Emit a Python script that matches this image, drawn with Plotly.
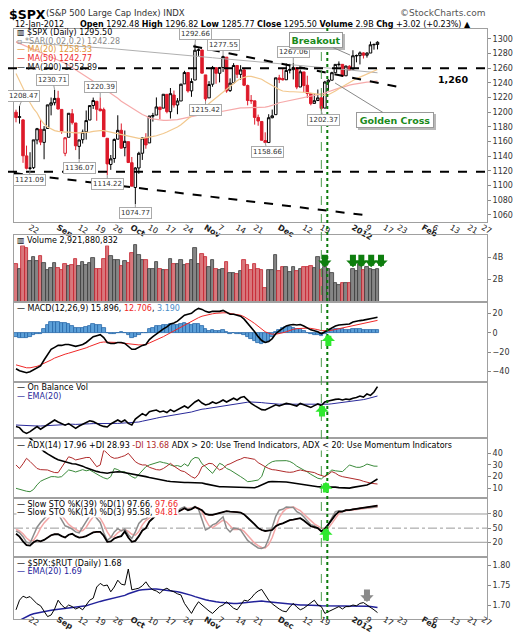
import pandas as pd
import plotly.graph_objects as go

# the page puts an 8px body margin round the figure, so the figure is 16px smaller
# than the window and every position below is given in window pixels
PAGE = 8
W, H = 529 - 2 * PAGE, 640 - 2 * PAGE
PLOT_L, PLOT_R, PLOT_T, PLOT_B = 14, 487, 29, 619
L, R, T, B = PLOT_L - PAGE, W + PAGE - PLOT_R, PLOT_T - PAGE, H + PAGE - PLOT_B

# trading calendar (blank trading days kept through end of Feb)
holidays = ["2011-09-05", "2011-11-24", "2011-12-26", "2012-01-02", "2012-01-16", "2012-02-20"]
days = [d.strftime("%Y-%m-%d") for d in pd.bdate_range("2011-08-16", "2012-02-29")]
days = [d for d in days if d not in holidays]
pos = {d: i for i, d in enumerate(days)}

tick_dates = ["2011-08-22", "2011-09-01", "2011-09-12", "2011-09-19", "2011-09-26",
              "2011-10-03", "2011-10-10", "2011-10-17", "2011-10-24", "2011-11-01",
              "2011-11-07", "2011-11-14", "2011-11-21", "2011-12-01", "2011-12-12",
              "2011-12-19", "2012-01-03", "2012-01-09", "2012-01-17", "2012-01-23",
              "2012-02-01", "2012-02-06", "2012-02-13", "2012-02-21", "2012-02-27"]
tick_text = ["22", "<b>Sep</b>", "12", "19", "26", "<b>Oct</b>", "10", "17", "24", "<b>Nov</b>",
             "7", "14", "21", "<b>Dec</b>", "12", "19", "<b>2012</b>", "9", "17", "23",
             "<b>Feb</b>", "6", "13", "21", "27"]

# ---- $SPX daily, 16-Aug-2011 .. 12-Jan-2012 ----
prev_close = 1204.49
opens = [1200.1, 1193.0, 1189.6, 1140.5, 1123.6, 1124.4, 1162.2, 1176.7, 1158.9, 1177.9, 1209.8, 1213.0,
         1219.1, 1203.9, 1144.0, 1165.9, 1197.98, 1185.4, 1153.5, 1162.6, 1173.3, 1189.4, 1209.2, 1214.99,
         1204.5, 1203.6, 1164.55, 1128.8, 1136.9, 1163.3, 1175.4, 1151.7, 1159.9,
         1131.2, 1097.4, 1124.0, 1144.1, 1165.0, 1158.2, 1194.6, 1196.2, 1206.96, 1205.65, 1224.47, 1200.75,
         1223.46, 1209.92, 1215.39, 1238.72, 1254.19, 1229.17, 1243.97, 1284.39, 1284.96,
         1251.0, 1219.62, 1238.25, 1260.82, 1253.21, 1261.12, 1275.18, 1229.59, 1240.12, 1263.85, 1251.7,
         1257.81, 1236.56, 1216.19, 1215.62, 1192.98, 1187.48, 1161.41, 1158.67, 1192.56, 1196.72,
         1246.91, 1246.03, 1244.33, 1257.19, 1258.14, 1260.87, 1234.48, 1255.05, 1236.83, 1225.73, 1212.12,
         1216.09, 1219.74, 1205.72, 1241.25, 1243.72, 1254.0, 1265.02, 1265.38, 1249.75, 1262.82,
         1258.86, 1277.03, 1277.3, 1280.93, 1277.83, 1280.77, 1292.02, 1292.48]
highs = [1203.5, 1208.47, 1190.7, 1154.5, 1145.5, 1162.35, 1178.7, 1190.7, 1181.2, 1210.3, 1220.1, 1230.71,
         1229.3, 1203.9, 1166.0, 1198.62, 1204.4, 1185.4, 1162.5, 1176.4, 1202.4, 1209.11, 1220.06, 1214.99,
         1220.39, 1206.3, 1164.55, 1141.7, 1164.2, 1195.9, 1184.7, 1175.1, 1159.9,
         1138.99, 1125.1, 1146.1, 1165.6, 1171.4, 1194.9, 1199.2, 1220.25, 1207.5, 1224.6, 1224.47, 1233.1,
         1229.64, 1219.36, 1239.03, 1256.55, 1254.19, 1246.28, 1292.66, 1287.08, 1284.96,
         1251.0, 1242.48, 1263.21, 1260.82, 1261.7, 1277.55, 1275.18, 1246.22, 1266.98, 1263.85, 1264.25,
         1259.61, 1237.73, 1223.51, 1215.62, 1196.81, 1187.48, 1172.66, 1197.35, 1203.67, 1247.11,
         1251.09, 1260.08, 1266.73, 1266.03, 1267.06, 1260.87, 1258.25, 1255.05, 1249.86, 1225.73, 1225.6,
         1231.04, 1224.57, 1242.82, 1245.09, 1255.22, 1265.42, 1269.37, 1265.85, 1263.54, 1264.12,
         1284.62, 1278.73, 1283.05, 1281.84, 1281.99, 1296.46, 1293.8, 1296.82]
lows = [1186.3, 1184.5, 1131.0, 1122.0, 1121.09, 1122.5, 1156.3, 1155.1, 1135.9, 1177.9, 1195.8, 1209.4,
        1203.9, 1170.6, 1140.1, 1165.9, 1183.3, 1148.4, 1136.07, 1157.4, 1162.7, 1189.4, 1204.5, 1188.4,
        1201.3, 1166.2, 1114.22, 1121.4, 1131.1, 1163.3, 1150.4, 1139.9, 1131.3,
        1098.9, 1074.77, 1116.1, 1134.95, 1150.26, 1158.2, 1187.3, 1196.2, 1190.58, 1205.65, 1198.55, 1191.5,
        1206.31, 1197.34, 1215.39, 1238.72, 1226.79, 1221.06, 1243.97, 1277.01, 1253.16,
        1215.42, 1219.62, 1234.81, 1238.92, 1240.75, 1254.99, 1226.64, 1227.7, 1240.12, 1246.68, 1244.34,
        1235.67, 1209.43, 1211.36, 1183.16, 1181.65, 1161.79, 1158.66, 1158.67, 1191.8, 1196.72,
        1239.73, 1243.35, 1244.33, 1253.03, 1244.8, 1231.47, 1234.48, 1227.25, 1219.43, 1209.47, 1212.12,
        1215.2, 1202.37, 1205.72, 1229.51, 1243.72, 1254.0, 1262.3, 1248.64, 1249.75, 1257.46,
        1258.86, 1268.1, 1265.26, 1273.34, 1274.55, 1280.77, 1285.41, 1285.77]
closes = [1192.76, 1193.89, 1140.65, 1123.53, 1123.82, 1162.35, 1177.6, 1159.27, 1176.8, 1210.08, 1212.92, 1218.89,
          1204.42, 1173.97, 1165.24, 1198.62, 1185.9, 1154.23, 1162.27, 1172.87, 1188.68, 1209.11, 1216.01, 1204.09,
          1202.09, 1166.76, 1129.56, 1136.43, 1162.95, 1175.38, 1151.06, 1160.4, 1131.42,
          1099.23, 1123.95, 1144.03, 1164.97, 1155.46, 1194.89, 1195.54, 1207.25, 1203.66, 1224.58, 1200.86, 1225.38,
          1209.88, 1215.39, 1238.25, 1254.19, 1229.05, 1242.0, 1284.59, 1285.09, 1253.3,
          1218.28, 1237.9, 1261.15, 1253.23, 1261.12, 1275.92, 1229.1, 1239.7, 1263.85, 1251.78, 1257.81,
          1236.91, 1216.13, 1215.65, 1192.98, 1188.04, 1161.79, 1158.67, 1192.55, 1195.19, 1246.96,
          1244.58, 1244.28, 1257.08, 1258.47, 1261.01, 1234.35, 1255.19, 1236.47, 1225.73, 1211.82, 1215.75,
          1219.66, 1205.35, 1241.3, 1243.72, 1254.0, 1265.33, 1265.43, 1249.64, 1263.02, 1257.6,
          1277.06, 1277.3, 1281.06, 1277.81, 1280.7, 1292.08, 1292.48, 1295.5]

ma20 = [1253, 1243, 1232, 1221, 1213, 1205, 1199, 1190, 1184, 1180,
        1177, 1175, 1174, 1173, 1173, 1173, 1172, 1172, 1172, 1172,
        1172, 1173, 1174, 1175, 1175, 1175, 1174, 1173, 1172, 1171,
        1170, 1169, 1168, 1167, 1165, 1164.5, 1164.5, 1165, 1166, 1167,
        1168, 1169, 1171, 1173, 1175, 1177, 1180, 1183, 1187, 1191,
        1196, 1199, 1201, 1204, 1208, 1212, 1216, 1220, 1224, 1228,
        1232, 1236, 1240, 1243, 1246, 1248, 1249, 1249, 1248, 1247,
        1245, 1242, 1239, 1236, 1233, 1231, 1229, 1228, 1228, 1228,
        1228, 1228, 1228, 1227, 1226, 1225, 1224, 1223, 1223, 1224,
        1226, 1229, 1232, 1235, 1238, 1241, 1244, 1246, 1248, 1250,
        1252, 1254, 1256, 1258.33]
ma50 = [1296, 1294, 1292, 1290, 1288, 1286, 1284, 1282, 1280, 1278,
        1276, 1274, 1271, 1269, 1267, 1264, 1261, 1258, 1255, 1252,
        1249, 1246, 1243, 1239, 1236, 1233, 1229, 1226, 1222, 1219,
        1215, 1212, 1208, 1205, 1202, 1199, 1197, 1195, 1192, 1191,
        1190, 1190, 1189, 1189, 1189, 1189, 1190, 1191, 1192, 1193,
        1194, 1195, 1196, 1197, 1197, 1198, 1199, 1200, 1201, 1202,
        1203, 1204, 1205, 1205, 1206, 1206, 1206, 1206, 1206, 1207,
        1207, 1207, 1208, 1209, 1211, 1213, 1214, 1215, 1216, 1217,
        1218, 1219, 1220, 1221, 1222, 1223, 1224, 1225, 1226, 1228,
        1230, 1231, 1233, 1234, 1236, 1237, 1238, 1239, 1240, 1240.5,
        1241, 1241.5, 1242, 1242.77]
ma200 = [1296, 1295.7, 1295.4, 1295.1, 1294.8, 1294.5, 1294.2, 1293.9, 1293.6, 1293.3,
         1293, 1292.7, 1292.4, 1292.1, 1291.8, 1291.5, 1291.2, 1290.9, 1290.6, 1290.3,
         1290, 1289.6, 1289.2, 1288.7, 1288.3, 1287.9, 1287.4, 1287, 1286.6, 1286.1,
         1285.7, 1285.3, 1284.8, 1284.4, 1284, 1283.5, 1283.1, 1282.7, 1282.2, 1281.8,
         1281.4, 1280.9, 1280.5, 1280.1, 1279.6, 1279.2, 1278.8, 1278.3, 1277.9, 1277.5,
         1277, 1276.6, 1276.1, 1275.7, 1275.3, 1274.8, 1274.4, 1273.9, 1273.5, 1273,
         1272.6, 1272.2, 1271.7, 1271.3, 1270.8, 1270.4, 1270, 1269.5, 1269.1, 1268.6,
         1268.2, 1267.8, 1267.3, 1266.9, 1266.4, 1266, 1265.6, 1265.2, 1264.8, 1264.5,
         1264.1, 1263.7, 1263.3, 1262.9, 1262.5, 1262.2, 1261.8, 1261.4, 1261, 1260.5,
         1260.1, 1259.6, 1259.1, 1258.6, 1258.2, 1257.7, 1257.2, 1256.8, 1256.3, 1255.8,
         1255.3, 1254.9, 1254.4, 1253.89]

volume_b = [3.40, 2.96, 5.02, 4.82, 3.64, 4.00, 3.64, 4.05, 3.46, 2.82, 3.05, 3.49,
            3.05, 2.82, 3.35, 3.17, 3.26, 3.85, 3.23, 3.55, 3.26, 3.50, 3.93, 2.96, 2.96, 3.85, 5.02,
            4.05, 3.70, 3.70, 3.17, 3.64, 3.46,
            4.35, 5.11, 4.14, 3.76, 3.76, 2.96, 2.96, 3.55, 2.96, 2.88, 2.88, 3.85, 3.40, 3.40, 3.76,
            3.26, 3.35, 3.76, 4.82, 3.35, 4.29,
            4.00, 3.10, 3.70, 2.97, 2.88, 2.90, 3.55, 2.60, 2.60, 2.47, 2.76, 3.70, 3.26, 2.88, 3.35,
            2.97, 2.88, 1.29, 2.88, 2.88, 4.14,
            2.76, 3.11, 3.11, 2.67, 3.11, 2.76, 2.97, 3.11, 3.11, 3.17, 3.00, 4.00, 2.88, 3.11, 2.90,
            2.60, 1.65, 1.50, 1.72, 1.70, 1.70,
            2.97, 2.76, 3.35, 2.82, 3.11, 2.97, 2.88, 2.92]

macd = [-37, -39, -40, -41, -40, -38, -36, -34, -28, -22,
        -17, -15, -13, -13, -12, -12, -13, -14, -13, -12,
        -10, -7, -4, -3, -2, -5, -10, -11, -11, -10,
        -10, -11, -14, -17, -17, -15, -13, -12, -7, -4,
        -1, 1, 4, 6, 9, 10, 12, 15, 18, 19,
        20, 23, 25, 24, 22, 21, 22, 22, 22, 23,
        21, 19, 19, 18, 17, 14, 10, 6, 1, -4,
        -8, -10, -9, -6, -1, 2, 5, 7, 8, 8.5,
        8, 8.5, 7, 5, 3, 2, 1, -1, 1, 3,
        5, 7, 8, 8.5, 9, 9, 11, 12, 12.5, 13,
        13.5, 14.5, 15.2, 15.9]
macd_signal = [-33, -34, -35, -36, -36, -35.5, -34.5, -33, -31.5, -30,
               -28, -26, -24.5, -23, -22, -21, -20, -19, -18, -17,
               -15.5, -14, -12.5, -11, -10, -9.5, -9.5, -9.5, -9.5, -10,
               -10.5, -11, -11.5, -12, -12.5, -12.5, -12.5, -12, -10.5, -9,
               -7.5, -5.5, -4, -2, 0, 2, 4, 6, 8, 10,
               12, 14, 15.5, 17, 18, 19, 19.5, 20, 20.5, 20.5,
               20.5, 20, 19.5, 19, 18, 16.5, 14.5, 12, 9.5, 6.5,
               3.5, 1, -0.5, -1.5, -1.5, -1, 0, 1, 2.5, 3.5,
               4.2, 4.6, 5, 4.8, 4.5, 4, 3.2, 2.2, 1.8, 2,
               2.6, 3.4, 4.3, 5, 5.8, 6.5, 7.3, 8.2, 9, 9.8,
               10.5, 11.3, 12, 12.7]
macd_hist = [-4, -5, -5, -5, -4, -2.5, -1.5, -1, 3.5, 8,
             11, 11, 11.5, 10, 10, 9, 7, 5, 5, 5,
             5.5, 7, 8.5, 8, 8, 4.5, -0.5, -1.5, -1.5, 0,
             0.5, 0, -2.5, -5, -4.5, -2.5, -0.5, 0, 3.5, 5,
             6.5, 6.5, 8, 8, 9, 8, 8, 9, 10, 9,
             8, 9, 9.5, 7, 4, 2, 2.5, 2, 1.5, 2.5,
             0.5, -1, -0.5, -1, -1, -2.5, -4.5, -6, -8.5, -10.5,
             -11.5, -11, -8.5, -4.5, 0.5, 3, 5, 6, 5.5, 5,
             3.8, 3.9, 2, 0.2, -1.5, -2, -2.2, -3.2, -0.8, 1,
             2.4, 3.6, 3.7, 3.5, 3.2, 2.5, 3.7, 3.8, 3.5, 3.2,
             3, 3.2, 3.2, 3.2]

obv_b = [-0.3, -0.8, -2.8, -3.7, -2.8, -1.5, -0.3, -1.6, -0.4, 0.8, 2.0, 3.0,
         2.0, 1.0, 0.4, 1.2, 0.0, -1.2, 0.0, 1.0, 1.8, 2.6, 2.2, 1.2, 0.4, -0.2, -0.5, 1.0, 2.0, 3.0,
         2.0, 3.0, 1.3,
         0.5, 3.5, 5.0, 6.2, 5.2, 7.2, 7.6, 8.0, 7.0, 7.5, 6.7, 8.2, 7.2, 8.0, 9.0, 10.0, 9.0, 10.5,
         12.0, 13.0, 11.5,
         10.5, 11.0, 12.0, 11.3, 12.0, 13.0, 12.0, 13.0, 13.9, 13.0, 14.2,
         14.7, 13.0, 11.3, 10.2, 9.0, 8.2, 8.0, 8.8, 9.7, 10.6,
         10.0, 10.6, 11.3, 11.0, 10.5, 10.0, 11.3, 10.5, 9.8, 9.3,
         10.2, 11.0, 10.2, 12.0, 12.5, 13.0, 13.3, 13.5, 13.0, 13.5,
         13.2, 13.9, 14.2, 15.0, 14.5, 16.0, 15.3, 17.0, 19.7]
obv_ema = [0.5, 0.4, 0.2, 0.0, -0.1, -0.1, 0.0, 0.0, 0.1, 0.2, 0.4, 0.6,
           0.7, 0.8, 0.85, 0.9, 0.9, 0.8, 0.8, 0.9, 1.0, 1.1, 1.2, 1.2, 1.2, 1.1, 1.0, 1.0, 1.1, 1.3,
           1.4, 1.5, 1.5,
           1.5, 1.7, 2.0, 2.4, 2.7, 3.1, 3.5, 3.9, 4.3, 4.6, 4.8, 5.1, 5.3, 5.6, 5.9, 6.3, 6.6, 7.0,
           7.5, 8.0, 8.4,
           8.6, 8.9, 9.2, 9.5, 9.8, 10.1, 10.3, 10.6, 10.9, 11.1, 11.4, 11.7, 11.9, 12.0, 12.0, 11.9,
           11.7, 11.5, 11.3, 11.1, 11.0,
           10.9, 10.9, 10.9, 10.9, 11.0, 11.0, 11.0, 11.0, 10.9, 10.8, 10.8, 10.8, 10.7, 10.8, 10.9,
           11.1, 11.3, 11.5, 11.8, 12.0, 12.2,
           12.5, 12.7, 13.0, 13.2, 13.6, 14.0, 14.5, 15.0]

adx = [58, 57, 56, 55, 53, 50, 47, 44, 41.5, 39.5,
       37.5, 36, 34.5, 33.5, 32.5, 31.5, 31, 30.8, 30, 29,
       27.5, 26.3, 25.5, 24.5, 23.8, 23.2, 22.9, 23.5, 24, 24.2,
       24, 23.5, 23, 22.5, 22, 21.4, 20.8, 20, 19.3, 18.6,
       18, 17.1, 16.6, 16.2, 15.8, 15.5, 15.3, 15.1, 15, 15,
       15, 15, 14.9, 14.5, 13.8, 13.2, 12.5, 11.8, 11.4, 11.3,
       11.2, 11.2, 11.1, 10.8, 10.5, 10.2, 10.1, 10, 10.5, 11.5,
       13, 14.5, 15.5, 15.8, 15.8, 15.7, 15.7, 15.4, 15, 14.5,
       14, 13.7, 13.3, 12.8, 12.3, 11.8, 11.4, 11.2, 11.3, 11.2,
       11.2, 11, 10.6, 10.3, 10, 10.2, 10.8, 11.3, 11.8, 12.3,
       12.8, 14.2, 16.2, 17.96]
plus_di = [10, 9, 8, 7.5, 7.1, 9, 13, 16, 17.5, 19,
           20, 20, 19.5, 20, 23, 25.7, 25, 24, 25, 26,
           25, 25.7, 24, 22, 20.5, 19, 18, 20, 27, 26,
           24.2, 24.2, 22, 20, 18.6, 22, 26, 28.5, 30, 31,
           32, 32.8, 32, 31.4, 30, 29, 29.5, 28.5, 31, 29,
           34.3, 36.4, 36, 31, 28.5, 26, 22.8, 27, 31.4, 30,
           27, 25.7, 24, 22, 20, 18, 15.7, 16, 16.5, 17.1,
           20, 28.5, 31, 32.8, 33.5, 33.7, 33.7, 33.7, 33, 31.4,
           29, 27.5, 25.7, 24, 22, 20, 18.6, 18, 20.5, 23,
           25.7, 25, 24.5, 24.3, 27, 30, 29, 28, 28, 29,
           30.8, 30, 29, 28.93]
minus_di = [30, 27, 31, 35.7, 33, 30, 27, 26, 26, 25.7,
            24.5, 23.5, 23.4, 28, 33, 37, 36, 34.3, 35, 36,
            36.4, 36.4, 32, 28.5, 30, 42.8, 40, 37, 35.7, 36,
            37, 38, 40, 36, 32.8, 31, 30, 30, 28, 27,
            26, 25.7, 27, 29, 31.4, 29, 27, 25, 24.3, 22,
            20, 18.6, 22, 28.5, 30, 31.4, 31, 28, 25.7, 27,
            30, 31, 32.8, 34, 35, 36.4, 36, 35.5, 34.8, 32,
            30, 28.5, 27, 26, 25.7, 25, 24.5, 24, 23.7, 24,
            25, 25.7, 25, 24.5, 24.3, 23.5, 22, 21, 20, 22,
            24.3, 23, 21, 20, 19.5, 19, 18, 17.5, 17.1, 16,
            15, 14.5, 14, 13.68]

sto_k39 = [38, 32, 22, 14, 13, 20, 24, 22, 25, 31,
           35, 37, 37, 33, 30, 36, 38, 33, 30, 31,
           33, 37, 41, 42, 42, 34, 21, 22, 28, 31,
           33, 43, 30, 21, 23, 33, 45, 50, 64, 71,
           78, 80, 84, 80, 84, 82, 84, 88, 92, 88,
           90, 95, 92, 88, 80, 78, 78, 80, 81, 84,
           86, 85, 85, 84, 83, 79, 72, 66, 58, 50,
           46, 44, 45, 46, 54, 58, 60, 64, 67, 68,
           69, 71, 66, 60, 54, 52, 50, 43, 48, 58,
           68, 78, 85, 85, 88, 88, 90, 91, 92, 93,
           94, 96, 97, 97.66]
sto_k14 = [44, 40, 32, 20, 18, 35, 52, 62, 70, 78,
           82, 82, 80, 68, 55, 52, 48, 42, 40, 52,
           65, 76, 80, 72, 62, 40, 24, 30, 42, 49,
           44, 48, 36, 28, 42, 60, 68, 70, 78, 84,
           86, 85, 90, 84, 88, 86, 87, 92, 95, 90,
           92, 96, 90, 68, 46, 50, 57, 60, 66, 74,
           50, 42, 50, 49, 46, 35, 24, 18, 12, 8,
           7, 10, 28, 53, 75, 88, 90, 95, 95, 94,
           85, 81, 74, 66, 57, 55, 50, 44, 50, 57,
           72, 85, 87, 86, 88, 88, 90, 90, 92, 92,
           93, 94, 95, 95.58]
sto_d3 = [48, 44, 38, 29, 23, 24, 35, 50, 61, 70,
          77, 81, 81, 77, 68, 58, 52, 47, 43, 45,
          52, 64, 74, 76, 71, 58, 42, 31, 32, 40,
          45, 47, 43, 37, 35, 43, 57, 66, 72, 77,
          83, 85, 87, 86, 87, 86, 87, 88, 91, 92,
          92, 93, 93, 85, 68, 55, 51, 56, 61, 67,
          63, 55, 47, 47, 48, 43, 35, 26, 18, 13,
          9, 8, 15, 30, 52, 72, 84, 91, 93, 95,
          91, 87, 80, 74, 66, 59, 54, 50, 48, 50,
          60, 71, 81, 86, 87, 87, 88, 89, 91, 91,
          92, 93, 94, 94.81]

spx_rut = [1.688, 1.712, 1.722, 1.718, 1.721, 1.712, 1.703, 1.698, 1.684, 1.671,
           1.675, 1.690, 1.712, 1.700, 1.692, 1.700, 1.696, 1.690, 1.694, 1.688,
           1.700, 1.712, 1.717, 1.745, 1.754, 1.748, 1.750, 1.733, 1.745, 1.762,
           1.752, 1.750, 1.790, 1.738, 1.740, 1.742, 1.748, 1.758, 1.745, 1.738,
           1.735, 1.729, 1.738, 1.742, 1.736, 1.733, 1.728, 1.725, 1.704, 1.690,
           1.679, 1.695, 1.708, 1.700, 1.692, 1.685, 1.679, 1.688, 1.696, 1.700,
           1.708, 1.700, 1.692, 1.688, 1.700, 1.712, 1.710, 1.717, 1.728, 1.735,
           1.739, 1.725, 1.712, 1.703, 1.696, 1.690, 1.685, 1.683, 1.695, 1.704,
           1.695, 1.688, 1.692, 1.698, 1.706, 1.712, 1.700, 1.696, 1.679, 1.683,
           1.688, 1.692, 1.696, 1.690, 1.696, 1.696, 1.700, 1.698, 1.704, 1.706,
           1.700, 1.696, 1.688, 1.681]
spx_rut_ema = [1.657, 1.662, 1.667, 1.671, 1.675, 1.678, 1.680, 1.682, 1.684, 1.686,
               1.687, 1.688, 1.689, 1.690, 1.691, 1.692, 1.693, 1.694, 1.695, 1.696,
               1.698, 1.701, 1.704, 1.707, 1.709, 1.711, 1.713, 1.715, 1.717, 1.719,
               1.721, 1.724, 1.728, 1.731, 1.734, 1.737, 1.738, 1.739, 1.740, 1.740,
               1.740, 1.739, 1.738, 1.737, 1.736, 1.735, 1.733, 1.731, 1.729, 1.727,
               1.724, 1.721, 1.718, 1.715, 1.713, 1.711, 1.709, 1.708, 1.707, 1.706,
               1.705, 1.704, 1.704, 1.704, 1.705, 1.706, 1.707, 1.708, 1.709, 1.710,
               1.710, 1.709, 1.708, 1.707, 1.706, 1.705, 1.704, 1.703, 1.702, 1.701,
               1.700, 1.700, 1.700, 1.700, 1.700, 1.700, 1.699, 1.698, 1.698, 1.698,
               1.698, 1.698, 1.698, 1.698, 1.698, 1.698, 1.698, 1.698, 1.698, 1.698,
               1.697, 1.696, 1.695, 1.694]

# analyst markup
level_lines = [1260, 1119]
trend_upper = [(50.5, 1290), (108.5, 1235)]
trend_lower = [(-0.6, 1117), (98.9, 1060)]
marker_lines = [(87.0, "#4f9a4f", 1, "dash"), (88.7, "#0a7a0a", 2, "dot")]
price_marks = [("2011-08-17", 1208.47, 4, -10), ("2011-08-31", 1230.71, -2, -10),
               ("2011-09-20", 1220.39, 0, -10), ("2011-09-12", 1136.07, 0, 9),
               ("2011-08-22", 1121.09, -1, 10), ("2011-09-22", 1114.22, 0, 9),
               ("2011-10-04", 1074.77, 0, 9), ("2011-10-27", 1292.66, 1, -10),
               ("2011-11-08", 1277.55, 0, -10), ("2011-11-01", 1215.42, 0, 9),
               ("2011-11-25", 1158.66, 2, 9), ("2011-12-07", 1267.06, 0, -11),
               ("2011-12-19", 1202.37, 2, 9)]

n = len(closes)
xs = list(range(n))
x_range = [-0.57, 134.2]
frame = "#a0a0a0"
red = "#dd1a2a"

fig = go.Figure()

# price panel
fig.add_trace(go.Scatter(x=xs, y=ma200, mode="lines", line=dict(color="#b0b0b0", width=1)))
fig.add_trace(go.Scatter(x=xs, y=ma50, mode="lines", line=dict(color="#f6aaaa", width=1.2)))
fig.add_trace(go.Scatter(x=xs, y=ma20, mode="lines", line=dict(color="#f2c88e", width=1.2)))
prev = [prev_close] + closes[:-1]
up_day = [c >= p for c, p in zip(closes, prev)]
for want, col in ((True, "#000000"), (False, red)):
    idx = [i for i in xs if up_day[i] == want]
    fig.add_trace(go.Candlestick(
        x=idx, open=[opens[i] for i in idx], high=[highs[i] for i in idx],
        low=[lows[i] for i in idx], close=[closes[i] for i in idx],
        increasing=dict(line=dict(color=col, width=1), fillcolor="white"),
        decreasing=dict(line=dict(color=col, width=1), fillcolor=col),
        whiskerwidth=0, xaxis="x", yaxis="y"))

# volume
fig.add_trace(go.Bar(x=xs, y=volume_b, xaxis="x2", yaxis="y2",
                     marker=dict(color=["#858585" if u else "#d9777c" for u in up_day],
                                 line=dict(color=["#3a3a3a" if u else "#c4202c" for u in up_day], width=0.8))))

# MACD
fig.add_trace(go.Bar(x=xs, y=macd_hist, xaxis="x3", yaxis="y3",
                     marker=dict(color="#5b9fd8", line=dict(color="#2767a8", width=0.8))))
fig.add_trace(go.Scatter(x=xs, y=macd_signal, mode="lines", xaxis="x3", yaxis="y3",
                         line=dict(color="#f02828", width=1)))
fig.add_trace(go.Scatter(x=xs, y=macd, mode="lines", xaxis="x3", yaxis="y3",
                         line=dict(color="#000000", width=1.6)))

# OBV
fig.add_trace(go.Scatter(x=xs, y=obv_ema, mode="lines", xaxis="x4", yaxis="y4",
                         line=dict(color="#2a2a9a", width=1)))
fig.add_trace(go.Scatter(x=xs, y=obv_b, mode="lines", xaxis="x4", yaxis="y4",
                         line=dict(color="#000000", width=1.6)))

# ADX
fig.add_trace(go.Scatter(x=xs, y=plus_di, mode="lines", xaxis="x5", yaxis="y5",
                         line=dict(color="#3a8a3a", width=1)))
fig.add_trace(go.Scatter(x=xs, y=minus_di, mode="lines", xaxis="x5", yaxis="y5",
                         line=dict(color="#b02a2a", width=1)))
fig.add_trace(go.Scatter(x=xs, y=adx, mode="lines", xaxis="x5", yaxis="y5",
                         line=dict(color="#000000", width=1.6)))

# slow stochastics (%D(1) equals %K(39), so the red line sits under the black one)
fig.add_trace(go.Scatter(x=xs, y=sto_d3, mode="lines", xaxis="x6", yaxis="y6",
                         line=dict(color="#f4a6a6", width=1.5)))
fig.add_trace(go.Scatter(x=xs, y=sto_k14, mode="lines", xaxis="x6", yaxis="y6",
                         line=dict(color="#8c8c8c", width=1.5)))
fig.add_trace(go.Scatter(x=xs, y=sto_k39, mode="lines", xaxis="x6", yaxis="y6",
                         line=dict(color="#f02828", width=1)))
fig.add_trace(go.Scatter(x=xs, y=sto_k39, mode="lines", xaxis="x6", yaxis="y6",
                         line=dict(color="#000000", width=1.8)))

# $SPX:$RUT
fig.add_trace(go.Scatter(x=xs, y=spx_rut_ema, mode="lines", xaxis="x7", yaxis="y7",
                         line=dict(color="#22229a", width=1.5)))
fig.add_trace(go.Scatter(x=xs, y=spx_rut, mode="lines", xaxis="x7", yaxis="y7",
                         line=dict(color="#000000", width=1)))


def fx(p):
    return (p - PLOT_L) / (PLOT_R - PLOT_L)


def fy(p):
    return (PLOT_B - p) / (PLOT_B - PLOT_T)


panels = [(29, 222), (235, 302), (302, 382), (382, 438), (438, 498), (498, 557), (557, 619)]
y_ranges = [[1050.3, 1313.6], [0, 5.96], [-50.6, 31.6], [-6, 22], [1.7, 53.1], [-11.2, 113.9], [1.665, 1.82]]
y_ticks = [(list(range(1060, 1301, 20)), None), ([2, 4], ["2B", "4B"]), ([-40, -20, 0, 20], None),
           ([], None), ([10, 20, 30, 40], None), ([20, 50, 80], None),
           ([1.70, 1.75, 1.80], ["1.70", "1.75", "1.80"])]
tickvals = [pos[d] for d in tick_dates]

layout = dict(width=W, height=H, margin=dict(l=L, r=R, t=T, b=B), showlegend=False,
              paper_bgcolor="white", plot_bgcolor="white", hovermode=False,
              font=dict(family="DejaVu Sans", size=8, color="#222"),
              bargap=0, boxgap=0.2, boxgroupgap=0.1)
for k, ((top, bot), yr, (tv, tt)) in enumerate(zip(panels, y_ranges, y_ticks), start=1):
    sfx = "" if k == 1 else str(k)
    layout["xaxis" + sfx] = dict(domain=[0, 1], range=x_range, anchor="y" + sfx, automargin=False,
                                 showticklabels=k in (1, 7), tickvals=tickvals, ticktext=tick_text,
                                 ticks="", ticklen=0, ticklabelstandoff=-3 if k == 1 else -8,
                                 showgrid=False, zeroline=False, showline=True,
                                 mirror=True, linecolor=frame, linewidth=1,
                                 tickfont=dict(size=8, color="#222"), rangeslider=dict(visible=False))
    yax = dict(domain=[fy(bot), fy(top)], range=yr, anchor="x" + sfx, side="right", automargin=False,
               tickvals=tv, showgrid=False, zeroline=False, showline=True, mirror=True,
               linecolor=frame, linewidth=1, ticks="outside", ticklen=3, tickcolor="#888",
               tickfont=dict(size=8, color="#333"))
    if tt:
        yax["ticktext"] = tt
    layout["yaxis" + sfx] = yax
fig.update_layout(**layout)

shapes = []
for lv in level_lines:
    shapes.append(dict(type="line", xref="paper", yref="y", x0=fx(PAGE), x1=1, y0=lv, y1=lv,
                       line=dict(color="#000", width=2, dash="dash")))
for (a, b) in (trend_upper, trend_lower):
    shapes.append(dict(type="line", xref="x", yref="y", x0=a[0], y0=a[1], x1=b[0], y1=b[1],
                       line=dict(color="#000", width=2, dash="dash")))
for lv, dsh in ((80, "solid"), (50, "dashdot"), (20, "solid")):
    shapes.append(dict(type="line", xref="paper", yref="y6", x0=0, x1=1, y0=lv, y1=lv, layer="below",
                       line=dict(color="#9a9a9a", width=1, dash=dsh)))
for xv, col, wd, dsh in marker_lines:
    shapes.append(dict(type="line", xref="x", yref="paper", x0=xv, x1=xv, y0=0, y1=fy(26),
                       line=dict(color=col, width=wd, dash=dsh)))
fig.update_layout(shapes=shapes)

ann = []


def note(px_, py_, text, size=8, color="#000", anchor="left", bg="rgba(0,0,0,0)"):
    ann.append(dict(xref="paper", yref="paper", x=fx(px_), y=fy(py_), text=text, showarrow=False,
                    xanchor=anchor, yanchor="middle", font=dict(size=size, color=color), bgcolor=bg,
                    borderpad=0))


for d, p, ax, ay in price_marks:
    ann.append(dict(x=pos[d], y=p, xref="x", yref="y", text=f"{p:.2f}", showarrow=True, arrowhead=0,
                    arrowwidth=1, arrowcolor="#999", ax=ax, ay=ay, bgcolor="white", bordercolor="#aaa",
                    borderwidth=1, borderpad=1, font=dict(size=7, color="#333")))

# header
note(8, 15, "<b>$SPX</b>", size=12.5)
note(45, 13, "(S&P 500 Large Cap Index) INDX", size=8.5, color="#333")
note(486, 13, "©StockCharts.com", size=9, color="#555", anchor="right")
note(14, 24, "12-Jan-2012", size=8)
note(79, 24, "<b>Open</b> 1292.48 <b>High</b> 1296.82 <b>Low</b> 1285.77 <b>Close</b> 1295.50 "
             "<b>Volume</b> 2.9B <b>Chg</b> +3.02 (+0.23%) ▲", size=8)

# panel legends
note(16, 32.5, "▥ $SPX (Daily) 1295.50", size=8)
note(16, 41, "▫ *SAR(0.02,0.2) 1242.28", size=8, color="#888")
note(16, 49.5, "— MA(20) 1258.33", size=8, color="#e09a3a")
note(16, 58, "— MA(50) 1242.77", size=8, color="#ee2a2a")
note(16, 67.5, "— MA(200) 1253.89", size=8, color="#222")
note(16, 240.5, "▥ Volume 2,921,880,832", size=8, bg="white")
note(16, 308.5, "— MACD(12,26,9) 15.896, <span style='color:#f02828'>12.706</span>, "
                "<span style='color:#4a8cc8'>3.190</span>", size=8, bg="white")
note(16, 387, "— On Balance Vol", size=8)
note(16, 396, "<span style='color:#2a2a9a'>— EMA(20)</span>", size=8)
note(16, 445.5, "— ADX(14) 17.96 +DI 28.93 <span style='color:#b02a2a'>-DI 13.68</span> "
                "ADX > 20: Use Trend Indicators, ADX < 20: Use Momentum Indicators", size=8, bg="white")
note(16, 504, "— Slow STO %K(39) %D(1) 97.66, <span style='color:#f02828'>97.66</span>", size=8, bg="white")
note(16, 512.5, "— Slow STO %K(14) %D(3) 95.58, <span style='color:#f02828'>94.81</span>", size=8, bg="white")
note(16, 563, "— $SPX:$RUT (Daily) 1.68", size=8)
note(16, 571.5, "<span style='color:#22229a'>— EMA(20) 1.69</span>", size=8)

note(437, 80, "<b>1,260</b>", size=9.5)

# callouts, each with a plain grey box behind it as a drop shadow
for txt, tip_x, tip_y, ax, ay, bw in (("Breakout", 95.2, 1278, -34, -15, 50),
                                      ("Golden Cross", 90.9, 1240, 60, 37, 74)):
    ann.append(dict(x=tip_x, y=tip_y, xref="x", yref="y", ax=ax + 2, ay=ay + 2, text=" ",
                    width=bw, height=12, showarrow=True, arrowcolor="rgba(0,0,0,0)", arrowwidth=0.1,
                    arrowhead=0, bgcolor="#b8b8b8", bordercolor="#b8b8b8", borderwidth=1, borderpad=1))
    ann.append(dict(x=tip_x, y=tip_y, xref="x", yref="y", ax=ax, ay=ay, text=f"<b>{txt}</b>",
                    width=bw, height=12, showarrow=True, arrowhead=0, arrowwidth=1, arrowcolor="#888",
                    bgcolor="white", bordercolor="#999", borderwidth=1, borderpad=1,
                    font=dict(size=9.5, color="#1a8a1a")))

# block arrows
arrows = [("x2", "y2", 88.0, 3.1, -14, "#0e7e0e"), ("x2", "y2", 96.0, 3.1, -14, "#0e7e0e"),
          ("x2", "y2", 98.4, 3.1, -14, "#0e7e0e"), ("x2", "y2", 101.2, 3.1, -14, "#0e7e0e"),
          ("x2", "y2", 104.0, 3.1, -14, "#0e7e0e"),
          ("x3", "y3", 89.0, -1.7, 13, "#2ee82e"), ("x4", "y4", 87.2, 10.5, 13, "#2ee82e"),
          ("x5", "y5", 88.3, 15.4, 12, "#2ee82e"), ("x6", "y6", 88.3, 50.3, 14, "#2ee82e"),
          ("x7", "y7", 100.0, 1.7075, -14, "#8a8a8a")]
for xa, ya, xv, yv, ay, col in arrows:
    ann.append(dict(x=xv, y=yv, xref=xa, yref=ya, ax=0, ay=ay, text="", showarrow=True,
                    arrowhead=1, arrowsize=0.37, arrowwidth=6, arrowcolor=col))

fig.update_layout(annotations=ann)
fig.write_html("out.html")
